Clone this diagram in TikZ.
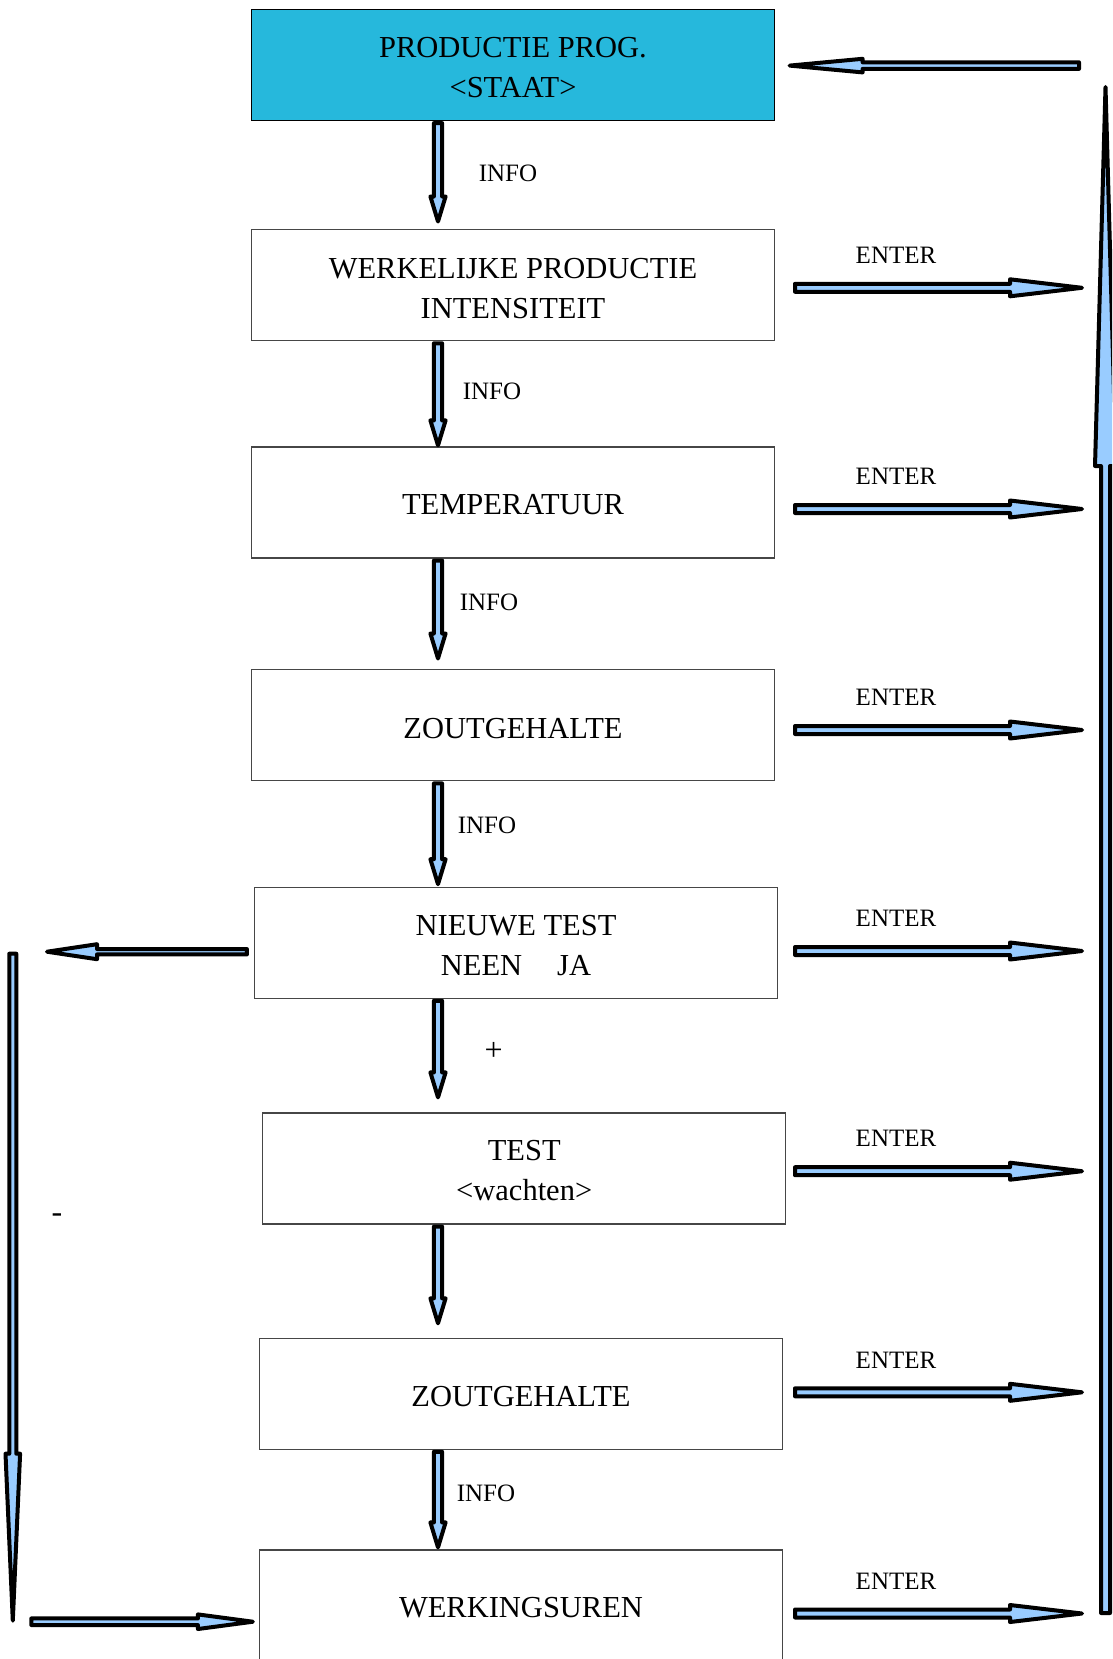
\documentclass[tikz,border=0pt]{standalone}
\usepackage{fontspec}
\setmainfont{Liberation Serif}
\usetikzlibrary{calc}
\definecolor{arrowblue}{RGB}{153,204,255}
\definecolor{headcyan}{RGB}{38,184,220}
\definecolor{boxline}{RGB}{70,70,70}
\tikzset{
  boxnode/.style={draw=boxline, line width=1.2pt, rectangle, minimum width=523pt, minimum height=111pt, inner sep=0pt},
  boxtext/.style={inner sep=0pt, align=center, font=\fontsize{30.5}{40}\selectfont},
  lbl/.style={inner sep=0pt, font=\fontsize{25}{30}\selectfont},
  sign/.style={inner sep=0pt, font=\fontsize{32}{34}\selectfont},
  blockarr/.style={draw=black, fill=arrowblue, line width=4pt, line join=round},
}
% #1 tail, #2 tip, #3 shaft half width, #4 head half width, #5 head length
\newcommand{\blockarrow}[5]{%
  \draw[blockarr] let \p1=#1, \p2=#2, \p3=($(\p2)!#5!(\p1)$) in
    ($(\p1)!#3!90:(\p2)$) -- ($(\p3)!#3!90:(\p2)$) -- ($(\p3)!#4!90:(\p2)$) -- (\p2)
    -- ($(\p3)!#4!-90:(\p2)$) -- ($(\p3)!#3!-90:(\p2)$) -- ($(\p1)!#3!-90:(\p2)$) -- cycle;}
\begin{document}
\begin{tikzpicture}[x=1pt,y=-1pt]
\useasboundingbox (0,0) rectangle (1112,1659);
\clip (0,0) rectangle (1112,1659);
\fill[white] (0,0) rectangle (1112,1659);

% boxes
\node[boxnode, fill=headcyan, draw=black] (b1) at (513,65) {};
\node[boxnode] (b2) at (513,285.2) {};
\node[boxnode] (b3) at (513,502.5) {};
\node[boxnode] (b4) at (513,725.3) {};
\node[boxnode] (b5) at (516,942.7) {};
\node[boxnode] (b6) at (524.2,1168.5) {};
\node[boxnode] (b7) at (521,1393.7) {};
\node[boxnode] (b8) at (521,1605.5) {};

% box texts
\node[boxtext] (t1) at ($(b1)+(0,3)$) {PRODUCTIE PROG.\\<STAAT>};
\node[boxtext] (t2) at ($(b2)+(0,3)$) {WERKELIJKE PRODUCTIE\\INTENSITEIT};
\node[boxtext] (t3) at ($(b3)+(0,2.5)$) {TEMPERATUUR};
\node[boxtext] (t4) at ($(b4)+(0,3)$) {ZOUTGEHALTE};
\node[boxtext] (t5) at ($(b5)+(0,3)$) {NIEUWE TEST\\NEEN\hspace{35pt}JA};
\node[boxtext] (t6) at ($(b6)+(0,2.5)$) {TEST\\<wachten>};
\node[boxtext] (t7) at ($(b7)+(0,3)$) {ZOUTGEHALTE};
\node[boxtext] (t8) at ($(b8)+(0,2.5)$) {WERKINGSUREN};

% vertical flow arrows
\coordinate (colx) at (438,0);
\blockarrow{($(b1.south -| colx)+(0,2)$)}{($(b2.north -| colx)+(0,-7.6)$)}{4.1pt}{7.6pt}{25pt}
\blockarrow{($(b2.south -| colx)+(0,2)$)}{($(b3.north -| colx)+(0,-1)$)}{4.1pt}{7.6pt}{25pt}
\blockarrow{($(b3.south -| colx)+(0,2)$)}{($(b4.north -| colx)+(0,-10.7)$)}{4.1pt}{7.6pt}{25pt}
\blockarrow{($(b4.south -| colx)+(0,2)$)}{($(b5.north -| colx)+(0,-2.4)$)}{4.1pt}{7.6pt}{25pt}
\blockarrow{($(b5.south -| colx)+(0,2)$)}{($(b6.north -| colx)+(0,-15)$)}{4.1pt}{7.6pt}{25pt}
\blockarrow{($(b6.south -| colx)+(0,2)$)}{($(b7.north -| colx)+(0,-14.3)$)}{4.1pt}{7.6pt}{25pt}
\blockarrow{($(b7.south -| colx)+(0,2)$)}{($(b8.north -| colx)+(0,-2)$)}{4.1pt}{7.6pt}{25pt}

% labels on flow arrows
\node[lbl] (i1) at (508,173.5) {INFO};
\node[lbl] (i2) at (492,391.5) {INFO};
\node[lbl] (i3) at (489,602) {INFO};
\node[lbl] (i4) at (487,825) {INFO};
\node[sign] (plus) at (493.6,1051.7) {+};
\node[lbl] (i5) at (486,1493) {INFO};
\node[sign] (minus) at (57,1217.7) {-};

% ENTER arrows
\foreach \b/\yy in {b2/287.8, b3/509, b4/730, b5/951, b6/1171.2, b7/1392.3, b8/1613.5} {
  \coordinate (es-\b) at (795,\yy);
  \coordinate (ee-\b) at (1082,\yy);
  \blockarrow{(es-\b)}{(ee-\b)}{4pt}{8.5pt}{72pt}
  \node[lbl] (ent-\b) at (896,\yy-32.5) {ENTER};
}

% right return arrow
\coordinate (rb) at (1105.5,1613);
\coordinate (rt) at (1105.5,87);
\blockarrow{(rb)}{(rt)}{4.5pt}{10.5pt}{379pt}

% top arrow back to program
\coordinate (tt) at (1079,65.6);
\blockarrow{(tt)}{($(b1.east)+(14.5,0.6)$)}{3.3pt}{6.8pt}{73pt}

% NEEN branch
\coordinate (lefttip) at (47,951.7);
\blockarrow{($(b5.west)+(-7,9)$)}{(lefttip)}{2.7pt}{7.5pt}{50pt}
\coordinate (lvt) at (12.8,953.7);
\coordinate (lvb) at (12.8,1620.7);
\blockarrow{(lvt)}{(lvb)}{3.5pt}{7.3pt}{167pt}
\coordinate (blt) at (31.3,1621.7);
\blockarrow{(blt)}{($(b8.west)+(-6,16.2)$)}{3.3pt}{7.3pt}{55pt}
\end{tikzpicture}
\end{document}
